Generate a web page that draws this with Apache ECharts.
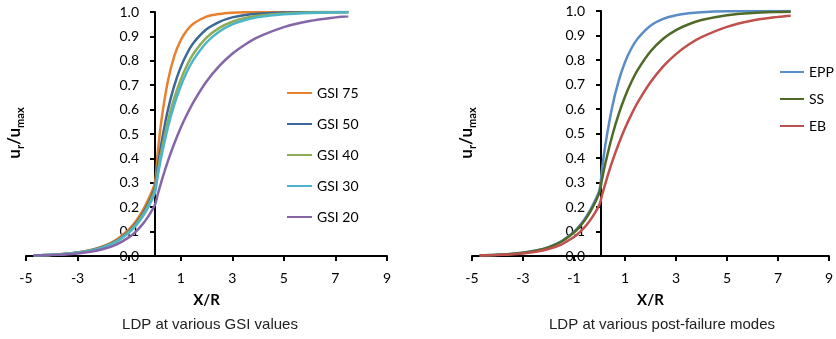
<!DOCTYPE html>
<html>
<head>
<meta charset="utf-8">
<script src="https://cdn.jsdelivr.net/npm/echarts@6/dist/echarts.min.js"></script>
<style>
  html, body { margin: 0; padding: 0; background: #fff; }
  #chart { width: 836px; height: 339px; }
</style>
</head>
<body>
<div id="chart"></div>
<script>
// x/R positions shared by every curve
const xVals = [-4.7, -4, -3.5, -3, -2.5, -2, -1.5, -1, -0.75, -0.5, -0.25, 0,
  0.1, 0.25, 0.5, 0.75, 1, 1.25, 1.5, 2, 2.5, 3, 3.5, 4, 5, 6, 7, 7.5]

// left panel: LDP at various GSI values
const gsi75 = [0.0027, 0.0055, 0.0091, 0.0149, 0.0246, 0.0406, 0.0669, 0.1104, 0.1417, 0.182, 0.2336, 0.30,
  0.415, 0.554, 0.715, 0.819, 0.884, 0.926, 0.953, 0.981, 0.992, 0.997, 0.999, 0.9995, 1.0, 1.0, 1.0, 1.0]
const gsi50 = [0.0025, 0.0051, 0.0085, 0.0139, 0.023, 0.0379, 0.0625, 0.103, 0.1323, 0.1698, 0.2181, 0.28,
  0.359, 0.461, 0.597, 0.698, 0.774, 0.831, 0.874, 0.929, 0.960, 0.978, 0.988, 0.993, 0.998, 0.9993, 0.9998, 0.9999]
const gsi40 = [0.0025, 0.0049, 0.0082, 0.0134, 0.0222, 0.0365, 0.0602, 0.0993, 0.1275, 0.1638, 0.2103, 0.27,
  0.337, 0.427, 0.551, 0.647, 0.723, 0.783, 0.830, 0.895, 0.935, 0.960, 0.976, 0.985, 0.994, 0.998, 0.9992, 0.9995]
const gsi30 = [0.0024, 0.0048, 0.0079, 0.0129, 0.0213, 0.0352, 0.058, 0.0957, 0.1228, 0.1577, 0.2025, 0.26,
  0.323, 0.408, 0.526, 0.620, 0.696, 0.757, 0.805, 0.875, 0.920, 0.949, 0.967, 0.979, 0.991, 0.9964, 0.9985, 0.9991]
const gsi20 = [0.0019, 0.0038, 0.0063, 0.0105, 0.0172, 0.0284, 0.0469, 0.0773, 0.0992, 0.1274, 0.1635, 0.21,
  0.249, 0.305, 0.388, 0.461, 0.526, 0.582, 0.632, 0.715, 0.779, 0.829, 0.867, 0.897, 0.938, 0.963, 0.978, 0.983]

// right panel: LDP at various post-failure modes
const epp = [0.0025, 0.0049, 0.0082, 0.0134, 0.0222, 0.0365, 0.0602, 0.0993, 0.1275, 0.1638, 0.2103, 0.27,
  0.356, 0.466, 0.609, 0.714, 0.791, 0.847, 0.888, 0.940, 0.968, 0.983, 0.991, 0.995, 0.9986, 0.9996, 0.9999, 1.0]
const ss = [0.0024, 0.0048, 0.0079, 0.0129, 0.0213, 0.0352, 0.058, 0.0957, 0.1228, 0.1577, 0.2025, 0.26,
  0.3135, 0.3865, 0.491, 0.578, 0.650, 0.710, 0.760, 0.835, 0.887, 0.922, 0.946, 0.963, 0.983, 0.992, 0.996, 0.997]
const eb = [0.0019, 0.0038, 0.0063, 0.0105, 0.0172, 0.0284, 0.0469, 0.0773, 0.0992, 0.1274, 0.1635, 0.21,
  0.2485, 0.303, 0.385, 0.457, 0.521, 0.577, 0.627, 0.709, 0.774, 0.824, 0.863, 0.893, 0.935, 0.961, 0.976, 0.981]

const LEFT = [
  { name: 'GSI 75', data: gsi75, color: '#e8812e' },
  { name: 'GSI 50', data: gsi50, color: '#3d6795' },
  { name: 'GSI 40', data: gsi40, color: '#8cac57' },
  { name: 'GSI 30', data: gsi30, color: '#4db5c9' },
  { name: 'GSI 20', data: gsi20, color: '#8466a8' },
]
const RIGHT = [
  { name: 'EPP', data: epp, color: '#5a8cc6' },
  { name: 'SS', data: ss, color: '#4f6a28' },
  { name: 'EB', data: eb, color: '#c0504d' },
]

const TICK_FONT = 'Lato, "Open Sans", sans-serif'
// y axis sits on x = 0, i.e. 5 of the 14 x units from the grid's left edge
const Y_OFFSET = -Math.round(361 * 5 / 14)

function xAxisFor(gridIndex) {
  return {
    type: 'value',
    gridIndex,
    min: -5,
    max: 9,
    interval: 2,
    name: 'X/R',
    nameLocation: 'middle',
    nameGap: 37,
    nameTextStyle: { color: '#000', fontSize: 15, fontWeight: 'bold', fontFamily: TICK_FONT },
    axisLine: { onZero: false, lineStyle: { color: '#000', width: 2 } },
    axisTick: { length: 5, lineStyle: { color: '#000', width: 2 } },
    axisLabel: { color: '#000', fontSize: 14, margin: 15, fontFamily: TICK_FONT },
    splitLine: { show: false },
  }
}

function yAxisFor(gridIndex) {
  return {
    type: 'value',
    gridIndex,
    min: 0,
    max: 1,
    interval: 0.1,
    offset: Y_OFFSET,
    axisLine: { onZero: false, lineStyle: { color: '#000', width: 2 } },
    axisTick: { length: 5, lineStyle: { color: '#000', width: 2 } },
    axisLabel: {
      color: '#000', fontSize: 14, margin: 16, fontFamily: TICK_FONT,
      formatter: v => v.toFixed(1),
    },
    splitLine: { show: false },
  }
}

function seriesFor(list, idx) {
  return list.map(s => ({
    name: s.name,
    type: 'line',
    xAxisIndex: idx,
    yAxisIndex: idx,
    symbol: 'none',
    smooth: 0.3,
    silent: true,
    color: s.color,
    lineStyle: { color: s.color, width: 2.5 },
    data: xVals.map((x, i) => [x, s.data[i]]),
  }))
}

function legendFor(list, left, top, gap, width) {
  return {
    orient: 'vertical',
    left,
    top,
    padding: 0,
    itemWidth: width,
    itemHeight: 14,
    itemGap: gap,
    itemStyle: { opacity: 0 },
    data: list.map(s => s.name),
    textStyle: { color: '#000', fontSize: 14, fontFamily: TICK_FONT },
    selectedMode: false,
  }
}

function yName(x) {
  return {
    type: 'text',
    x,
    y: 133,
    rotation: Math.PI / 2,
    style: {
      text: '{b|u}{s|r}{b|/u}{s|max}',
      align: 'center',
      verticalAlign: 'middle',
      fill: '#000',
      rich: {
        b: { fontSize: 17, fontWeight: 'bold', lineHeight: 21, fontFamily: TICK_FONT, fill: '#000' },
        s: { fontSize: 11, fontWeight: 'bold', lineHeight: 11, verticalAlign: 'bottom', fontFamily: TICK_FONT, fill: '#000' },
      },
    },
  }
}

function caption(x, text) {
  return {
    type: 'text',
    x,
    y: 325,
    style: {
      text,
      align: 'center',
      verticalAlign: 'middle',
      fill: '#222',
      fontSize: 15,
      fontFamily: '"Liberation Sans", Arial, sans-serif',
    },
  }
}

const chart = echarts.init(document.getElementById('chart'), null, { renderer: 'canvas' })
chart.setOption({
  backgroundColor: '#fff',
  animation: false,
  grid: [
    { left: 26, top: 12, width: 361, height: 244 },
    { left: 472, top: 11, width: 361, height: 245 },
  ],
  xAxis: [xAxisFor(0), xAxisFor(1)],
  yAxis: [yAxisFor(0), yAxisFor(1)],
  legend: [
    legendFor(LEFT, 286, 86, 17, 25),
    legendFor(RIGHT, 779, 65, 13, 24),
  ],
  series: [...seriesFor(LEFT, 0), ...seriesFor(RIGHT, 1)],
  graphic: [
    yName(15),
    yName(467),
    caption(210, 'LDP at various GSI values'),
    caption(662, 'LDP at various post-failure modes'),
  ],
})
</script>
</body>
</html>
